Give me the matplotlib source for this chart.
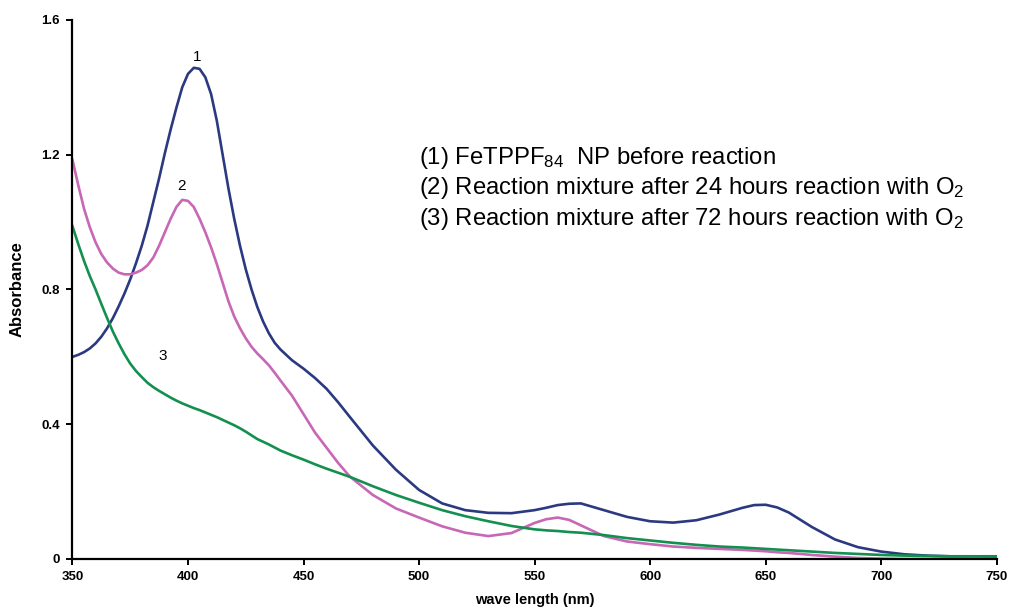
import matplotlib
matplotlib.use('Agg')
import matplotlib.pyplot as plt

plt.rcParams['font.family'] = ['Liberation Sans', 'DejaVu Sans']
plt.rcParams['mathtext.fontset'] = 'custom'
plt.rcParams['mathtext.rm'] = 'Liberation Sans'
plt.rcParams['mathtext.it'] = 'Liberation Sans'

wavelength = [350, 352.5, 355, 357.5, 360, 362.5, 365, 367.5, 370, 372.5, 375, 377.5,
              380, 382.5, 385, 387.5, 390, 392.5, 395, 397.5, 400, 402.5, 405, 407.5,
              410, 412.5, 415, 417.5, 420, 422.5, 425, 427.5, 430, 432.5, 435, 437.5,
              440, 445, 450, 455, 460, 465, 470,
              480, 490, 500, 510, 520, 530, 540, 550, 555, 560, 565, 570, 580, 590, 600, 610,
              620, 630, 640, 645, 650, 655, 660, 670, 680, 690, 700, 710, 720, 730, 740, 750]

curve1 = [0.600, 0.606, 0.614, 0.625, 0.640, 0.660, 0.685, 0.715, 0.750, 0.788, 0.830, 0.878,
          0.930, 0.990, 1.060, 1.130, 1.205, 1.275, 1.340, 1.400, 1.440, 1.458, 1.455, 1.430,
          1.380, 1.300, 1.200, 1.100, 1.010, 0.930, 0.860, 0.800, 0.748, 0.705, 0.670, 0.642,
          0.622, 0.590, 0.565, 0.537, 0.505, 0.465, 0.422,
          0.337, 0.265, 0.205, 0.165, 0.145, 0.137, 0.136, 0.145, 0.152, 0.160, 0.164, 0.165,
          0.145, 0.125, 0.112, 0.108, 0.115, 0.132, 0.152, 0.160, 0.161, 0.153, 0.138, 0.095,
          0.058, 0.035, 0.022, 0.014, 0.010, 0.008, 0.008, 0.008]

curve2 = [1.185, 1.110, 1.040, 0.985, 0.940, 0.905, 0.880, 0.862, 0.850, 0.845, 0.845, 0.850,
          0.858, 0.872, 0.895, 0.930, 0.970, 1.010, 1.045, 1.066, 1.063, 1.045, 1.010, 0.970,
          0.925, 0.875, 0.820, 0.765, 0.720, 0.685, 0.655, 0.630, 0.610, 0.593, 0.575, 0.553,
          0.530, 0.485, 0.430, 0.375, 0.330, 0.285, 0.245,
          0.190, 0.150, 0.123, 0.097, 0.078, 0.068, 0.077, 0.107, 0.118, 0.123, 0.116, 0.100,
          0.068, 0.052, 0.044, 0.037, 0.033, 0.030, 0.027, 0.025, 0.023, 0.020, 0.018, 0.012,
          0.007, 0.003, 0.001, 0.000, 0.000, 0.001, 0.004, 0.006]

curve3 = [0.988, 0.935, 0.885, 0.840, 0.800, 0.757, 0.715, 0.675, 0.640, 0.608, 0.580, 0.558,
          0.540, 0.523, 0.510, 0.499, 0.489, 0.479, 0.470, 0.462, 0.455, 0.448, 0.442, 0.435,
          0.428, 0.421, 0.413, 0.405, 0.397, 0.388, 0.378, 0.367, 0.356, 0.348, 0.340, 0.331,
          0.322, 0.308, 0.295, 0.281, 0.268, 0.256, 0.244,
          0.216, 0.190, 0.167, 0.145, 0.127, 0.112, 0.098, 0.088, 0.085, 0.083, 0.080, 0.078,
          0.071, 0.062, 0.055, 0.048, 0.042, 0.037, 0.034, 0.032, 0.030, 0.028, 0.026, 0.022,
          0.018, 0.015, 0.012, 0.010, 0.009, 0.008, 0.008, 0.007]

legend_lines = [
    '(1) FeTPPF$_{84}$  NP before reaction',
    '(2) Reaction mixture after 24 hours reaction with O$_2$',
    '(3) Reaction mixture after 72 hours reaction with O$_2$',
]

fig = plt.figure(figsize=(10.12, 6.13), dpi=100)
ax = fig.add_axes([0.0716, 0.0881, 0.9133, 0.8793])

ax.plot(wavelength, curve1, color='#2b3a80', lw=1.9)
ax.plot(wavelength, curve2, color='#c767b6', lw=1.9)
ax.plot(wavelength, curve3, color='#13904f', lw=1.9)

ax.text(404, 1.49, '1', fontsize=11, ha='center', va='center')
ax.text(397, 1.107, '2', fontsize=11, ha='center', va='center')
ax.text(389, 0.603, '3', fontsize=11, ha='center', va='center')

for i, line in enumerate(legend_lines):
    ax.text(500, 1.19 - i * 0.09, line, fontsize=17.2, ha='left', va='center')

ax.set_xlim(350, 750)
ax.set_ylim(0, 1.6)
ax.set_xticks(range(350, 751, 50))
ax.set_yticks([0, 0.4, 0.8, 1.2, 1.6])
ax.set_yticklabels(['0', '0.4', '0.8', '1.2', '1.6'])

for side in ['top', 'right']:
    ax.spines[side].set_visible(False)
for side in ['left', 'bottom']:
    ax.spines[side].set_linewidth(1.6)
ax.tick_params(direction='out', length=4, width=1.4, labelsize=9.5, pad=5)
for lab in ax.get_xticklabels() + ax.get_yticklabels():
    lab.set_fontweight('bold')

ax.set_xlabel('wave length (nm)', fontsize=10.5, fontweight='bold', labelpad=7)
ax.set_ylabel('Absorbance', fontsize=12, fontweight='bold', labelpad=12)

fig.savefig('out.png', dpi=100)
